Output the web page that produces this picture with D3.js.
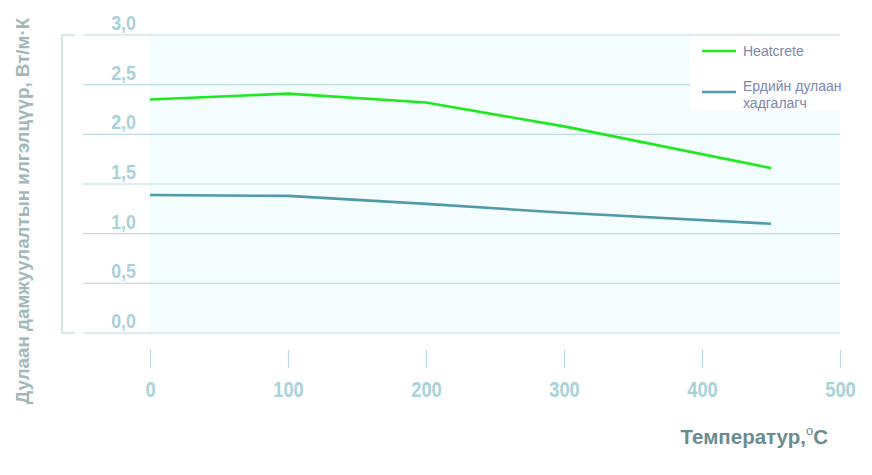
<!DOCTYPE html>
<html><head><meta charset="utf-8">
<script src="https://cdn.jsdelivr.net/npm/d3@7/dist/d3.min.js"></script>
<style>body{margin:0;background:#fff}svg{display:block}</style>
</head><body><svg id="c" width="872" height="475"></svg>
<script>
const temps = [0, 100, 200, 300, 450];
const heatcrete = [2.35, 2.41, 2.32, 2.08, 1.66];
const ordinary = [1.39, 1.38, 1.30, 1.21, 1.10];
const seriesNames = ["Heatcrete", "Ердийн дулаан хадгалагч"];
const seriesColors = ["#1fe81f", "#4d9aa8"];
const xTicks = [0, 100, 200, 300, 400, 500];
const yTicks = [0, 0.5, 1.0, 1.5, 2.0, 2.5, 3.0];
const yTitle = "Дулаан дамжуулалтын илгэлцүүр, Вт/м·К";
const xTitle = "Температур,";

const svg = d3.select("#c");
const x = d3.scaleLinear().domain([0, 500]).range([150, 840]);
const y = d3.scaleLinear().domain([0, 3]).range([333, 35]);
const numFont = "'Liberation Sans',Arial,sans-serif";

// plot background
svg.append("rect").attr("x", x(0)).attr("y", y(3)).attr("width", x(500) - x(0)).attr("height", y(0) - y(3)).attr("fill", "#f4fdfd");

// gridlines
svg.append("g").selectAll("line").data(yTicks).join("line")
  .attr("x1", 83).attr("x2", x(500)).attr("y1", d => y(d)).attr("y2", d => y(d))
  .attr("stroke", "#bfdcdf").attr("stroke-width", 1.2);

// left bracket
svg.append("path").attr("d", `M75,${y(3)}H62V${y(0)}H75`).attr("fill", "none").attr("stroke", "#b8d3d3").attr("stroke-width", 1.2);

// y tick labels (condensed via horizontal scale)
const fmt = d => d3.format(".1f")(d).replace(".", ",");
svg.append("g").selectAll("text").data(yTicks).join("text")
  .attr("transform", d => `translate(136,${y(d) - 5}) scale(0.85,1)`).attr("text-anchor", "end")
  .attr("font-family", numFont).attr("font-weight", "bold").attr("font-size", 21)
  .attr("fill", "#a7d2d9").text(fmt);

// x axis ticks
const xAxis = d3.axisBottom(x).tickValues(xTicks).tickSize(18).tickPadding(13).tickFormat(d3.format("d"));
const gx = svg.append("g").attr("transform", "translate(0,350)").call(xAxis);
gx.select(".domain").remove();
gx.selectAll(".tick line").attr("stroke", "#bcd9dd").attr("stroke-width", 1.2);
gx.selectAll(".tick text").attr("font-family", numFont).attr("font-weight", "bold").attr("font-size", 22)
  .attr("fill", "#a7d2d9").attr("transform", "scale(0.83,1)");

// lines
const line = d3.line().x((d, i) => x(temps[i])).y(d => y(d));
[heatcrete, ordinary].forEach((s, i) => {
  svg.append("path").datum(s).attr("d", line).attr("fill", "none")
    .attr("stroke", seriesColors[i]).attr("stroke-width", 2.6);
});

// legend
svg.append("rect").attr("x", 690).attr("y", 36).attr("width", 150).attr("height", 75).attr("fill", "#ffffff");
const lg = svg.append("g");
lg.append("line").attr("x1", 702).attr("x2", 736).attr("y1", 51).attr("y2", 51).attr("stroke", seriesColors[0]).attr("stroke-width", 2.6);
lg.append("line").attr("x1", 702).attr("x2", 736).attr("y1", 92).attr("y2", 92).attr("stroke", seriesColors[1]).attr("stroke-width", 2.6);
const lgFont = "'Liberation Sans',Arial,sans-serif";
lg.append("text").attr("x", 743).attr("y", 56).attr("font-family", lgFont).attr("font-size", 14).attr("fill", "#7b87aa").text(seriesNames[0]);
const t2 = lg.append("text").attr("x", 743).attr("y", 91).attr("font-family", lgFont).attr("font-size", 14).attr("fill", "#7b87aa");
t2.append("tspan").attr("x", 743).text("Ердийн дулаан");
t2.append("tspan").attr("x", 743).attr("dy", 17).text("хадгалагч");

// y title
svg.append("text").attr("transform", "translate(29,211) rotate(-90)").attr("text-anchor", "middle")
  .attr("font-family", lgFont).attr("font-weight", "bold").attr("font-size", 18.8)
  .attr("fill", "#a2b8b8").text(yTitle);

// x title
const xt = svg.append("text").attr("x", 828).attr("y", 444).attr("text-anchor", "end")
  .attr("font-family", lgFont).attr("font-weight", "bold").attr("font-size", 20.5).attr("fill", "#6a8b8f");
xt.append("tspan").text(xTitle);
xt.append("tspan").attr("dy", -9).attr("font-size", 13).attr("font-weight", "normal").text("o");
xt.append("tspan").attr("dy", 9).text("С");
</script></body></html>
